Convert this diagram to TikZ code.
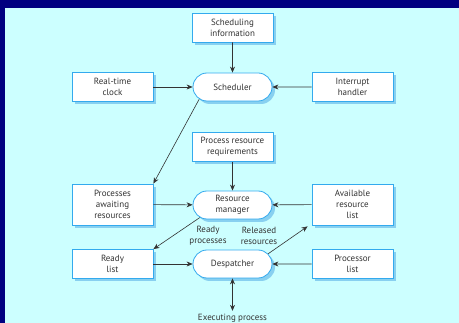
\documentclass[tikz,border=0pt]{standalone}
\usepackage{fontspec}
\setmainfont{PT Sans}
\usetikzlibrary{arrows.meta,shapes.misc,shadows}

\definecolor{navy}{HTML}{000080}
\definecolor{panel}{HTML}{CCFFFF}
\definecolor{edgeblue}{HTML}{33AAEE}
\definecolor{shadeblue}{HTML}{88D0F0}
\definecolor{ink}{HTML}{333333}

\tikzset{
    box/.style={draw=edgeblue, fill=white, line width=0.8pt, minimum width=81pt, minimum height=29pt,
        inner sep=1pt, align=center, text=ink, font=\fontsize{9}{11}\selectfont,
        drop shadow={shadow xshift=3pt, shadow yshift=-3pt, fill=shadeblue, opacity=1}},
    task/.style={box, rounded rectangle, minimum height=28pt},
    lbl/.style={text=ink, align=center, font=\fontsize{9}{11}\selectfont},
    flow/.style={draw=ink, line width=0.6pt, -{Stealth[length=6pt,width=5pt]}}
}

\begin{document}
\begin{tikzpicture}[x=1pt, y=-1pt]
    %background and panel
        \fill[navy] (0,0) rectangle (459,323);
        \fill[panel] (5,8) rectangle (459,323);
        \useasboundingbox (0,0) rectangle (459,323);

    %top row
        \node[box] (sinfo) at (232.5,27.5) {Scheduling\\information};
        \node[box] (clock) at (112.5,87) {Real-time\\clock};
        \node[task] (sched) at (232.5,87) {Scheduler};
        \node[box] (ihand) at (352.5,87) {Interrupt\\handler};

    %middle row
        \node[box] (preq) at (232.5,147) {Process resource\\requirements};
        \node[box, minimum height=41pt] (pwait) at (112.5,204.5) {Processes\\awaiting\\resources};
        \node[task] (rman) at (232.5,205) {Resource\\manager};
        \node[box, minimum height=41pt] (avail) at (352.5,204.5) {Available\\resource\\list};

    %bottom row
        \node[box] (rlist) at (112.5,264) {Ready\\list};
        \node[task] (desp) at (232.5,264) {Despatcher};
        \node[box] (plist) at (352.5,264) {Processor\\list};
        \node[lbl] (exec) at (232.5,318.5) {Executing process};

    %arrow labels
        \node[lbl] (rproc) at (208,235.5) {Ready\\processes};
        \node[lbl] (rres) at (259,235.5) {Released\\resources};

    %connectors
        \draw[flow] (sinfo) -- (sched);
        \draw[flow] (clock) -- (sched);
        \draw[flow] (ihand) -- (sched);
        \draw[flow] (sched.200) -- (pwait.north east);
        \draw[flow] (preq) -- (rman);
        \draw[flow] (pwait) -- (rman);
        \draw[flow] (avail) -- (rman);
        \draw[flow] (rman.201) -- (rlist.north east);
        \draw[flow] (rlist) -- (desp);
        \draw[flow] (plist) -- (desp);
        \draw[flow] (desp.16) -- ([xshift=-4pt,yshift=-1pt]avail.south west);
        \draw[flow, {Stealth[length=6pt,width=5pt]}-{Stealth[length=6pt,width=5pt]}] (desp) -- (exec);
\end{tikzpicture}
\end{document}
